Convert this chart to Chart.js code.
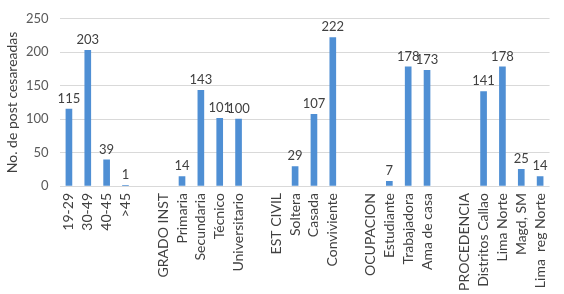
<!DOCTYPE html>
<html>
<head>
<meta charset="utf-8">
<script src="https://cdn.jsdelivr.net/npm/chart.js@4"></script>
<style>
  html, body { margin: 0; padding: 0; background: #fff; }
  #wrap { width: 564px; height: 294px; }
</style>
</head>
<body>
<div id="wrap"><canvas id="grafico" width="564" height="294"></canvas></div>
<script>
// Categorías (con espacios en blanco entre grupos)
const categorias = ['19-29', '30-49', '40-45', '>45', '',
    'GRADO INST', 'Primaria', 'Secundaria', 'Técnico', 'Universitario', '',
    'EST CIVIL', 'Soltera', 'Casada', 'Conviviente', '',
    'OCUPACION', 'Estudiante', 'Trabajadora', 'Ama de casa', '',
    'PROCEDENCIA', 'Distritos Callao', 'Lima Norte', 'Magd, SM', 'Lima  reg Norte'];
const valores = [115, 203, 39, 1, null,
    null, 14, 143, 101, 100, null,
    null, 29, 107, 222, null,
    null, 7, 178, 173, null,
    null, 141, 178, 25, 14];
const ticksY = [0, 50, 100, 150, 200, 250];

const fuente = 'Lato, "Open Sans", sans-serif';

// Etiquetas de datos encima de cada barra
const etiquetas = {
    id: 'etiquetas',
    afterDatasetsDraw(chart) {
        const ctx = chart.ctx;
        const meta = chart.getDatasetMeta(0);
        ctx.save();
        ctx.font = '13px ' + fuente;
        ctx.fillStyle = '#404040';
        ctx.textAlign = 'center';
        ctx.textBaseline = 'bottom';
        meta.data.forEach((bar, i) => {
            const v = valores[i];
            if (v === null) return;
            ctx.fillText(String(v), bar.x, bar.y - 4);
        });
        ctx.restore();
    }
};

new Chart(document.getElementById('grafico'), {
    type: 'bar',
    data: {
        labels: categorias,
        datasets: [{
            data: valores,
            backgroundColor: '#4f8fd4',
            barThickness: 6,
            borderWidth: 0
        }]
    },
    options: {
        responsive: false,
        animation: false,
        layout: { padding: { top: 17, right: 4, left: 0, bottom: 0 } },
        plugins: {
            legend: { display: false },
            tooltip: { enabled: false }
        },
        scales: {
            x: {
                grid: { display: false, drawTicks: false },
                border: { display: false },
                ticks: {
                    autoSkip: false,
                    maxRotation: 90,
                    minRotation: 90,
                    padding: 7,
                    color: '#404040',
                    font: { family: fuente, size: 14 }
                },
                afterFit: (s) => { s.height = 108; }
            },
            y: {
                min: 0,
                max: 250,
                afterBuildTicks: (s) => { s.ticks = ticksY.map(v => ({ value: v })); },
                grid: { color: '#d9d9d9', drawTicks: false },
                border: { display: false },
                ticks: {
                    padding: 11,
                    color: '#595959',
                    font: { family: fuente, size: 13 }
                },
                title: {
                    display: true,
                    text: 'No. de post cesareadas',
                    color: '#404040',
                    font: { family: fuente, size: 14 },
                    padding: { top: 4, bottom: 0 }
                },
                afterFit: (s) => { s.width = 59.5; }
            }
        }
    },
    plugins: [etiquetas]
});
</script>
</body>
</html>
